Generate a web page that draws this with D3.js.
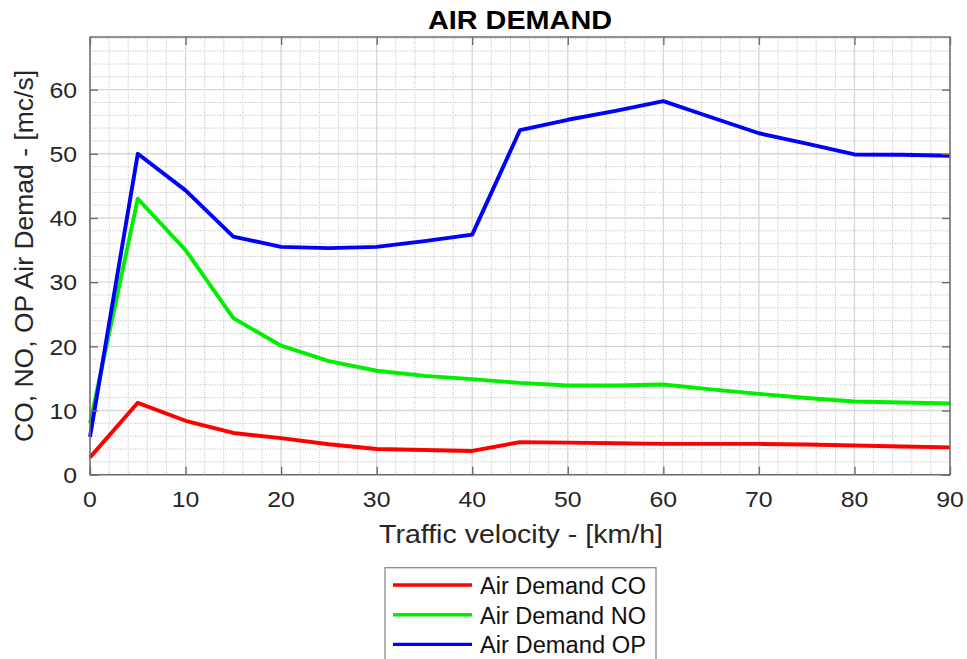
<!DOCTYPE html>
<html>
<head>
<meta charset="utf-8">
<script src="https://cdn.jsdelivr.net/npm/d3@7"></script>
<style>
  html, body { margin: 0; padding: 0; background: #fff; }
  svg { display: block; font-family: "Liberation Sans", Arial, Helvetica, sans-serif; }
</style>
</head>
<body>
<svg id="chart" width="967" height="659"></svg>
<script>
// Traffic velocity samples [km/h]
const velocity = [0, 5, 10, 15, 20, 25, 30, 35, 40, 45, 50, 55, 60, 65, 70, 75, 80, 85, 90];
// Air demand [mc/s] per pollutant
const airCO = [2.7, 11.2, 8.4, 6.5, 5.7, 4.75, 4.0, 3.85, 3.7, 5.08, 5.0, 4.9, 4.8, 4.8, 4.8, 4.7, 4.56, 4.4, 4.25];
const airNO = [8.0, 43.0, 35.0, 24.4, 20.1, 17.7, 16.2, 15.4, 14.9, 14.3, 13.9, 13.9, 14.05, 13.3, 12.6, 11.95, 11.4, 11.25, 11.1];
const airOP = [5.9, 50.0, 44.3, 37.1, 35.5, 35.3, 35.5, 36.4, 37.4, 53.7, 55.3, 56.7, 58.2, 55.7, 53.2, 51.6, 49.9, 49.85, 49.7];

const seriesNames = ["Air Demand CO", "Air Demand NO", "Air Demand OP"];
const seriesColors = ["#ff0000", "#00ee00", "#0000ff"];
const xTicks = [0, 10, 20, 30, 40, 50, 60, 70, 80, 90];
const yTicks = [0, 10, 20, 30, 40, 50, 60];

const svg = d3.select("#chart");
const plot = { left: 90, right: 950, top: 37, bottom: 474.7 };

const x = d3.scaleLinear().domain([0, 90]).range([plot.left, plot.right]);
const y = d3.scaleLinear().domain([0, 68.2]).range([plot.bottom, plot.top]);

// minor grid (dotted) every 2 units
const minorX = d3.range(0, 90.001, 2).filter(v => v % 10 !== 0);
const minorY = d3.range(0, 68.2, 2).filter(v => v % 10 !== 0);
const grid = svg.append("g");
grid.selectAll(".mx").data(minorX).join("line")
  .attr("x1", d => x(d)).attr("x2", d => x(d))
  .attr("y1", plot.top).attr("y2", plot.bottom)
  .attr("stroke", "#bdbdbd").attr("stroke-width", 1).attr("stroke-dasharray", "1,1.5");
grid.selectAll(".my").data(minorY).join("line")
  .attr("y1", d => y(d)).attr("y2", d => y(d))
  .attr("x1", plot.left).attr("x2", plot.right)
  .attr("stroke", "#bdbdbd").attr("stroke-width", 1).attr("stroke-dasharray", "1,1.5");
// major grid (solid, light)
grid.selectAll(".Mx").data(xTicks).join("line")
  .attr("x1", d => x(d)).attr("x2", d => x(d))
  .attr("y1", plot.top).attr("y2", plot.bottom)
  .attr("stroke", "#d8d8d8").attr("stroke-width", 1.4);
grid.selectAll(".My").data(yTicks).join("line")
  .attr("y1", d => y(d)).attr("y2", d => y(d))
  .attr("x1", plot.left).attr("x2", plot.right)
  .attr("stroke", "#d8d8d8").attr("stroke-width", 1.4);

// data lines
const allSeries = [airCO, airNO, airOP];
const line = d3.line().x((d, i) => x(velocity[i])).y(d => y(d));
svg.append("g").selectAll("path").data(allSeries).join("path")
  .attr("d", d => line(d))
  .attr("fill", "none")
  .attr("stroke", (d, i) => seriesColors[i])
  .attr("stroke-width", 3.9)
  .attr("stroke-linejoin", "round");

// axes with inward ticks on all four sides
const axisColor = "#6e6e6e";
const tickLen = 8;
const axB = svg.append("g").attr("transform", `translate(0,${plot.bottom})`)
  .call(d3.axisBottom(x).tickValues(xTicks).tickSize(-tickLen).tickFormat(""));
const axT = svg.append("g").attr("transform", `translate(0,${plot.top})`)
  .call(d3.axisTop(x).tickValues(xTicks).tickSize(-tickLen).tickFormat(""));
const axL = svg.append("g").attr("transform", `translate(${plot.left},0)`)
  .call(d3.axisLeft(y).tickValues(yTicks).tickSize(-tickLen).tickFormat(""));
const axR = svg.append("g").attr("transform", `translate(${plot.right},0)`)
  .call(d3.axisRight(y).tickValues(yTicks).tickSize(-tickLen).tickFormat(""));
[axB, axT, axL, axR].forEach(a => {
  a.select(".domain").remove();
  a.selectAll(".tick line").attr("stroke", axisColor).attr("stroke-width", 1.4);
});
svg.append("rect")
  .attr("x", plot.left).attr("y", plot.top)
  .attr("width", plot.right - plot.left).attr("height", plot.bottom - plot.top)
  .attr("fill", "none").attr("stroke", axisColor).attr("stroke-width", 1.5);

// text helper: width-fitted labels
function label(g, txt, px, py, size, anchor, len, opts = {}) {
  const t = g.append("text")
    .attr("x", px).attr("y", py)
    .attr("font-size", size)
    .attr("text-anchor", anchor)
    .attr("fill", opts.fill || "#262626")
    .attr("font-weight", opts.weight || "normal")
    .text(txt);
  if (len) t.attr("textLength", len).attr("lengthAdjust", "spacingAndGlyphs");
  if (opts.transform) t.attr("transform", opts.transform);
  return t;
}

// tick labels
const tl = svg.append("g");
xTicks.forEach(v => {
  const s = String(v);
  label(tl, s, x(v), 506.5, 22.5, "middle", s.length * 13.8);
});
yTicks.forEach(v => {
  const s = String(v);
  label(tl, s, 77, y(v) + 8.2, 22.5, "end", s.length * 13.8);
});

// title and axis titles
label(svg, "AIR DEMAND", 520, 29, 25, "middle", 184, { weight: "bold", fill: "#000" });
label(svg, "Traffic velocity - [km/h]", 521, 542.5, 25, "middle", 284);
label(svg, "CO, NO, OP Air Demad  - [mc/s]", 0, 0, 25.5, "middle", 372,
  { transform: "translate(33,256) rotate(-90)" });

// legend
const lg = svg.append("g");
lg.append("rect")
  .attr("x", 385).attr("y", 567.7).attr("width", 271).attr("height", 110)
  .attr("fill", "#fff").attr("stroke", "#8a8a8a").attr("stroke-width", 1.3);
seriesNames.forEach((name, i) => {
  const cy = 585 + i * 29.7;
  lg.append("line")
    .attr("x1", 393).attr("x2", 472).attr("y1", cy).attr("y2", cy)
    .attr("stroke", seriesColors[i]).attr("stroke-width", 3.4);
  label(lg, name, 480, cy + 8.8, 23, "start", 166, { fill: "#111" });
});
</script>
</body>
</html>
